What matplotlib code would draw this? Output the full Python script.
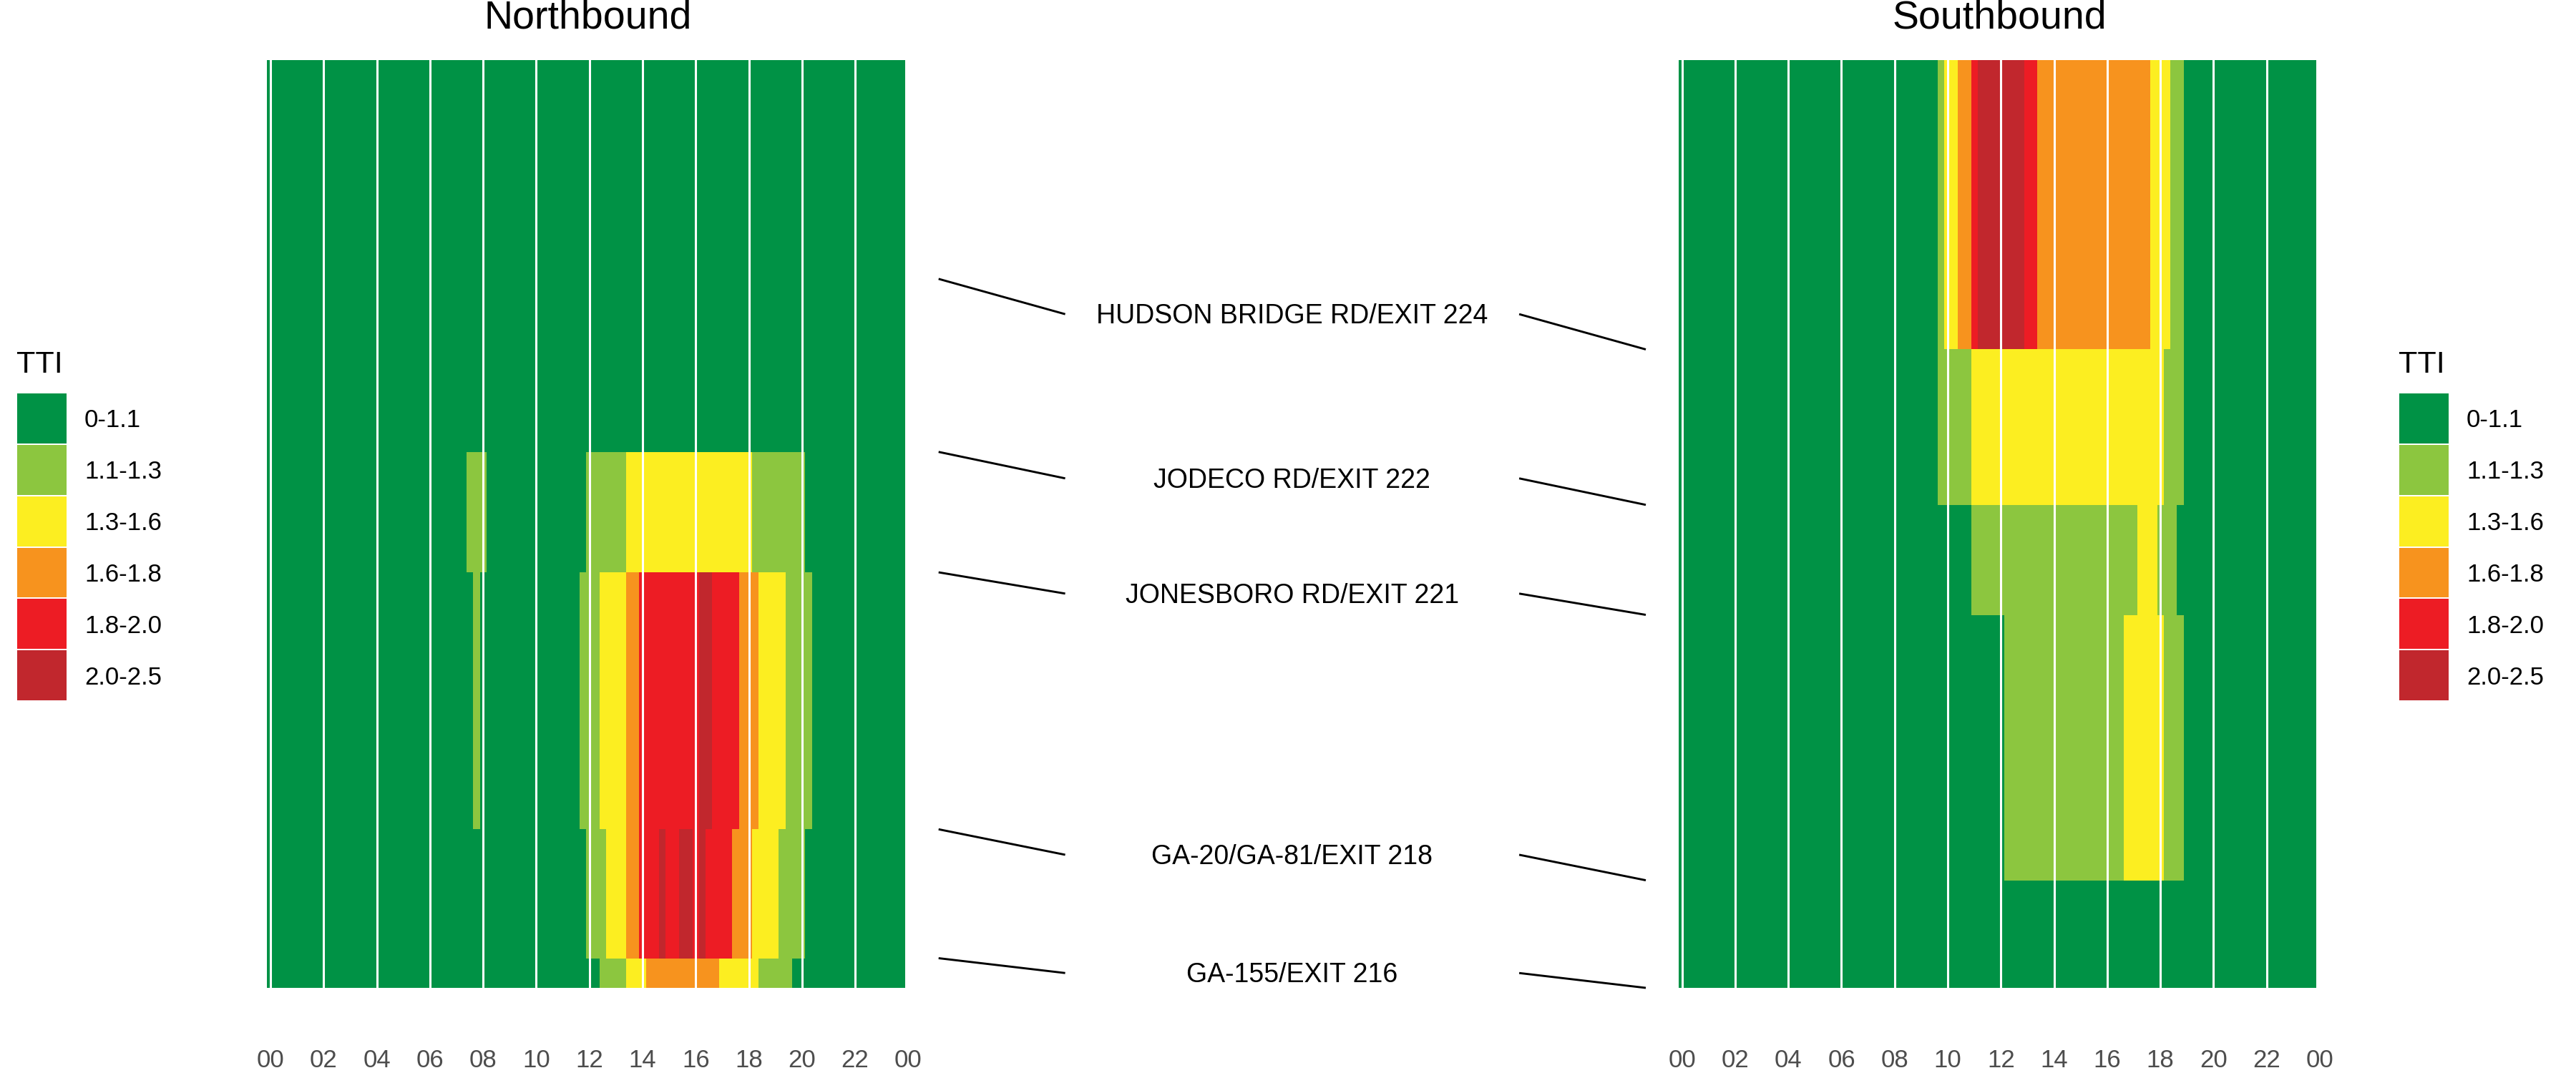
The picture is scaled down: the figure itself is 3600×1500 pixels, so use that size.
import matplotlib
matplotlib.use('Agg')
import matplotlib.pyplot as plt
import numpy as np
from matplotlib.colors import ListedColormap, BoundaryNorm

plt.rcParams['font.family'] = ['Liberation Sans', 'DejaVu Sans']

# TTI classes
tti_labels = ['0-1.1', '1.1-1.3', '1.3-1.6', '1.6-1.8', '1.8-2.0', '2.0-2.5']
tti_colors = ['#009245', '#8CC63F', '#FCEE21', '#F7931E', '#ED1C24', '#C1272D']

# quarter-hour bins over the day (tile centres)
hours = np.arange(96) * 0.25
hour_ticks = list(range(0, 25, 2))
hour_labels = ['%02d' % (h % 24) for h in hour_ticks]

# exits, south to north
exit_names = ['GA-155/EXIT 216', 'GA-20/GA-81/EXIT 218', 'JONESBORO RD/EXIT 221',
              'JODECO RD/EXIT 222', 'HUDSON BRIDGE RD/EXIT 224']

# segment edges (miles from the south end of each panel)
nb_edges = [0, 0.35, 1.87, 4.90, 6.32, 8.36, 10.94]
sb_edges = [0, 1.35, 4.68, 6.06, 8.01, 11.64]
nb_exits = [0.35, 1.87, 4.90, 6.32, 8.36]
sb_exits = [0, 1.35, 4.68, 6.06, 8.01]

# TTI class per quarter hour, one group of 4 per hour, rows south to north
nb_rows = [
    "0000 0000 0000 0000 0000 0000 0000 0000 0000 0000 0000 0000 0011 1122 2333 3333 3333 2222 2211 1110 0000 0000 0000 0000",
    "0000 0000 0000 0000 0000 0000 0000 0000 0000 0000 0000 0000 1112 2233 4445 4455 4544 4433 3222 2111 1000 0000 0000 0000",
    "0000 0000 0000 0000 0000 0000 0000 0001 0000 0000 0000 0001 1122 2233 4444 4444 4554 4443 3322 2211 1100 0000 0000 0000",
    "0000 0000 0000 0000 0000 0000 0000 0011 1000 0000 0000 0000 1111 1122 2222 2222 2222 2222 2111 1111 1000 0000 0000 0000",
    "0000 0000 0000 0000 0000 0000 0000 0000 0000 0000 0000 0000 0000 0000 0000 0000 0000 0000 0000 0000 0000 0000 0000 0000",
    "0000 0000 0000 0000 0000 0000 0000 0000 0000 0000 0000 0000 0000 0000 0000 0000 0000 0000 0000 0000 0000 0000 0000 0000",
]
sb_rows = [
    "0000 0000 0000 0000 0000 0000 0000 0000 0000 0000 0000 0000 0000 0000 0000 0000 0000 0000 0000 0000 0000 0000 0000 0000",
    "0000 0000 0000 0000 0000 0000 0000 0000 0000 0000 0000 0000 0111 1111 1111 1111 1112 2222 2111 0000 0000 0000 0000 0000",
    "0000 0000 0000 0000 0000 0000 0000 0000 0000 0000 0000 1111 1111 1111 1111 1111 1111 1222 1110 0000 0000 0000 0000 0000",
    "0000 0000 0000 0000 0000 0000 0000 0000 0000 0001 1111 2222 2222 2222 2222 2222 2222 2222 2111 0000 0000 0000 0000 0000",
    "0000 0000 0000 0000 0000 0000 0000 0000 0000 0001 2233 4555 5555 4433 3333 3333 3333 3332 2211 0000 0000 0000 0000 0000",
]


def to_grid(rows):
    return np.array([[int(c) for c in r.replace(' ', '')] for r in rows])


nb_grid = to_grid(nb_rows)
sb_grid = to_grid(sb_rows)

cmap = ListedColormap(tti_colors)
norm = BoundaryNorm(np.arange(-0.5, 6.5, 1), cmap.N)
x_edges = np.append(hours, 24) - 0.125

W, H = 3600, 1500
fig = plt.figure(figsize=(36, 15), dpi=100)


def px_box(x0, y0, x1, y1):
    return [x0 / W, 1 - y1 / H, (x1 - x0) / W, (y1 - y0) / H]


def draw_panel(ax, grid, edges, title):
    ax.pcolormesh(x_edges, edges, grid, cmap=cmap, norm=norm, shading='flat',
                  antialiased=False, linewidth=0)
    for h in hour_ticks:
        ax.axvline(h, color='white', lw=2.2)
    ax.set_xlim(-0.125, 24)
    ax.set_ylim(edges[0], edges[-1])
    ax.set_xticks(hour_ticks)
    ax.set_xticklabels(hour_labels)
    ax.tick_params(axis='x', length=0, pad=61, labelsize=25, labelcolor='#4D4D4D')
    ax.set_yticks([])
    for s in ax.spines.values():
        s.set_visible(False)
    ax.text(0.5, 1 + 44 / 1297, title, transform=ax.transAxes,
            ha='center', va='baseline', fontsize=40)


def draw_legend(x0):
    ax = fig.add_axes(px_box(x0, 549, x0 + 71, 980))
    ax.barh(range(len(tti_labels)), 1, height=1, color=tti_colors,
            edgecolor='white', linewidth=1.4)
    ax.set_xlim(0, 1)
    ax.set_ylim(len(tti_labels) - 0.5, -0.5)
    ax.axis('off')
    for i, lab in enumerate(tti_labels):
        ax.text(1 + 24 / 71, i + 12.5 / 71.8, lab, ha='left', va='baseline', fontsize=25)
    ax.text(0, -0.5 - 28 / 71.8, 'TTI', ha='left', va='baseline', fontsize=31)


ax_nb = fig.add_axes(px_box(373.4, 84, 1269.4, 1381))
ax_sb = fig.add_axes(px_box(2346.0, 84, 3242.0, 1381))
ax_mid = fig.add_axes(px_box(1311.7, 84, 2300, 1381))

draw_panel(ax_nb, nb_grid, nb_edges, 'Northbound')
draw_panel(ax_sb, sb_grid, sb_edges, 'Southbound')

# exit labels linking both panels
ax_mid.set_xlim(0, 1)
ax_mid.set_ylim(0, 1)
ax_mid.axis('off')
for name, yn, ys in zip(exit_names, nb_exits, sb_exits):
    fn = (yn - nb_edges[0]) / (nb_edges[-1] - nb_edges[0])
    fs = (ys - sb_edges[0]) / (sb_edges[-1] - sb_edges[0])
    fm = (fn + fs) / 2
    ax_mid.plot([0, 0.179], [fn, fm], color='black', lw=2.1,
                solid_capstyle='butt', clip_on=False)
    ax_mid.plot([0.821, 1], [fm, fs], color='black', lw=2.1,
                solid_capstyle='butt', clip_on=False)
    ax_mid.text(0.5, fm - 13 / 1297, name, ha='center', va='baseline', fontsize=27)

draw_legend(23)
draw_legend(3352)

fig.savefig('out.png', dpi=100, facecolor='white')
